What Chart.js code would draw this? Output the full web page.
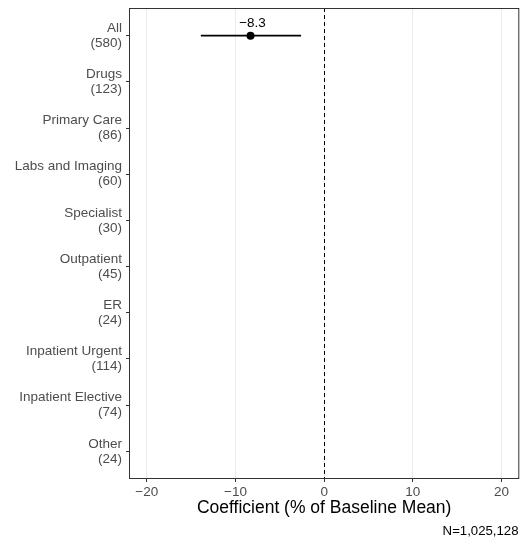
<!DOCTYPE html>
<html>
<head>
<meta charset="utf-8">
<script src="https://cdn.jsdelivr.net/npm/chart.js@4/dist/chart.umd.min.js"></script>
<style>
  body { margin: 0; background: #fff; }
  #wrap { width: 521px; height: 539px; }
</style>
</head>
<body>
<div id="wrap"><canvas id="forestChart" width="521" height="539"></canvas></div>
<script>
// categories, top to bottom
const categories = ['All', 'Drugs', 'Primary Care', 'Labs and Imaging', 'Specialist',
    'Outpatient', 'ER', 'Inpatient Urgent', 'Inpatient Elective', 'Other'];
const counts = [580, 123, 86, 60, 30, 45, 24, 114, 74, 24];
// coefficient and 95% interval (only "All" is estimated)
const estimates = [-8.3, null, null, null, null, null, null, null, null, null];
const lower = [-13.9, null, null, null, null, null, null, null, null, null];
const upper = [-2.6, null, null, null, null, null, null, null, null, null];
const xTicks = [-20, -10, 0, 10, 20];

const minus = v => (v < 0 ? '\u2212' + Math.abs(v) : String(v));
const font = 'Liberation Sans, Arial, sans-serif';

const points = [];
estimates.forEach((v, i) => {
    if (v !== null) points.push({ x: v, y: i });
});

// error bars, zero line, value labels, panel border and caption
const forestExtras = {
    id: 'forestExtras',
    beforeDatasetsDraw(chart) {
        const { ctx, chartArea: a, scales: { x, y } } = chart;
        ctx.save();
        ctx.strokeStyle = '#000';
        ctx.lineWidth = 1;
        ctx.setLineDash([4, 3]);
        const x0 = Math.round(x.getPixelForValue(0)) + 0.5;
        ctx.beginPath();
        ctx.moveTo(x0, a.top);
        ctx.lineTo(x0, a.bottom);
        ctx.stroke();
        ctx.setLineDash([]);
        ctx.lineWidth = 1.8;
        lower.forEach((lo, i) => {
            if (lo === null) return;
            const py = y.getPixelForValue(i);
            ctx.beginPath();
            ctx.moveTo(x.getPixelForValue(lo), py);
            ctx.lineTo(x.getPixelForValue(upper[i]), py);
            ctx.stroke();
        });
        ctx.restore();
    },
    afterDatasetsDraw(chart) {
        const { ctx, chartArea: a, scales: { x, y } } = chart;
        ctx.save();
        ctx.fillStyle = '#000';
        ctx.font = '13.5px ' + font;
        ctx.textAlign = 'center';
        ctx.textBaseline = 'middle';
        estimates.forEach((v, i) => {
            if (v === null) return;
            ctx.fillText(minus(v), x.getPixelForValue(v) + 2, y.getPixelForValue(i) - 12.5);
        });
        ctx.strokeStyle = '#333';
        ctx.lineWidth = 1;
        ctx.strokeRect(a.left + 0.5, a.top + 0.5, a.right - a.left - 1, a.bottom - a.top - 1);
        ctx.textAlign = 'right';
        ctx.font = '13.2px ' + font;
        ctx.fillText('N=1,025,128', 518.5, 531.7);
        ctx.restore();
    }
};

new Chart(document.getElementById('forestChart'), {
    type: 'scatter',
    data: {
        datasets: [{
            data: points,
            backgroundColor: '#000',
            borderWidth: 0,
            pointRadius: 4,
            pointHoverRadius: 4
        }]
    },
    options: {
        responsive: false,
        animation: false,
        layout: {
            autoPadding: false,
            padding: { left: 0, right: 1.7, top: 8, bottom: 0 }
        },
        plugins: {
            legend: { display: false },
            tooltip: { enabled: false }
        },
        scales: {
            x: {
                type: 'linear',
                min: -22,
                max: 22,
                afterBuildTicks: s => { s.ticks = xTicks.map(v => ({ value: v })); },
                afterFit: s => { s.height = 60; s.paddingLeft = 0; s.paddingRight = 0; },
                grid: {
                    color: '#ebebeb',
                    tickColor: '#333',
                    tickLength: 3
                },
                border: { display: false },
                ticks: {
                    color: '#4d4d4d',
                    padding: 2,
                    maxRotation: 0,
                    font: { family: font, size: 13.5 },
                    callback: v => minus(v)
                },
                title: {
                    display: true,
                    text: 'Coefficient (% of Baseline Mean)',
                    color: '#000',
                    font: { family: font, size: 17.5 },
                    padding: { top: 0, bottom: 20 }
                }
            },
            y: {
                type: 'linear',
                reverse: true,
                min: -0.6,
                max: categories.length - 0.4,
                afterBuildTicks: s => { s.ticks = categories.map((c, i) => ({ value: i })); },
                afterFit: s => { s.width = 129; s.paddingTop = 0; s.paddingBottom = 0; },
                grid: {
                    drawOnChartArea: false,
                    tickColor: '#333',
                    tickLength: 3
                },
                border: { display: false },
                ticks: {
                    color: '#4d4d4d',
                    padding: 4,
                    font: { family: font, size: 13.5, lineHeight: 1.11 },
                    callback: v => [categories[v], '(' + counts[v] + ')']
                }
            }
        }
    },
    plugins: [forestExtras]
});
</script>
</body>
</html>
